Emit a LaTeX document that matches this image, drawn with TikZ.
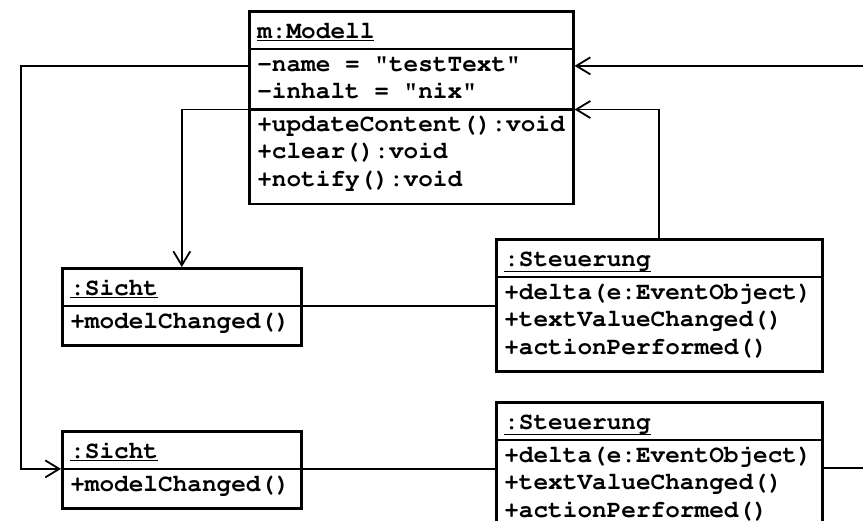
\documentclass[tikz,border=0pt]{standalone}
\usepackage[T1]{fontenc}
\usetikzlibrary{shapes.multipart,arrows.meta,calc}
\newcommand{\blankchar}{\hspace*{0.6em}}
\newcommand{\titlerow}{\rule[-7pt]{0pt}{31pt}}
\newcommand{\lastrow}{\rule[-14pt]{0pt}{32.9pt}}

\begin{document}
\begin{tikzpicture}[x=1pt,y=-1pt,
obj/.style={rectangle split, rectangle split parts=#1, draw=black, line width=2.6pt, anchor=north west, inner xsep=8pt, inner ysep=2pt, font=\fontfamily{pcr}\fontseries{b}\fontsize{24.4}{27}\selectfont},
assoc/.style={black, line width=2.6pt},
nav/.style={black, line width=1.8pt, -{Straight Barb[length=14pt,width=17pt]}}
]
\useasboundingbox (0,0) rectangle (863,521);
\clip (0,0) rectangle (863,521);
\node[obj=3, text width=308pt] (modell) at (248,10) {\titlerow\underline{m:Modell}
\nodepart{two}\strut-name\blankchar=\blankchar"testText"\\\strut-inhalt\blankchar=\blankchar"nix"
\nodepart{three}\strut+updateContent():void\\\strut+clear():void\\\lastrow+notify():void};
\node[obj=2, text width=223pt] (sicht) at (61,267) {\titlerow\underline{:Sicht}
\nodepart{two}\lastrow+modelChanged()};
\node[obj=2, text width=310pt] (steuerung) at (495,238) {\titlerow\underline{:Steuerung}
\nodepart{two}\strut+delta(e:EventObject)\\\strut+textValueChanged()\\\lastrow+actionPerformed()};
\node[obj=2, text width=223pt] (sichtb) at (61,430) {\titlerow\underline{:Sicht}
\nodepart{two}\lastrow+modelChanged()};
\node[obj=2, text width=310pt] (steuerungb) at (495,401) {\titlerow\underline{:Steuerung}
\nodepart{two}\strut+delta(e:EventObject)\\\strut+textValueChanged()\\\lastrow+actionPerformed()};
\coordinate (mrow) at ($(modell.text split east)!0.28!(modell.two split east)$);
\coordinate (mrowl) at ($(modell.text split west)!0.28!(modell.two split west)$);
\coordinate (lbend) at (21,0);
\coordinate (rbend) at (900,0);
\draw[assoc] (sicht.text split east) -- (sicht.text split east -| steuerung.west);
\draw[assoc] (sichtb.text split east) -- (sichtb.text split east -| steuerungb.west);
\draw[nav] (modell.two split west) -| (sicht.north);
\draw[nav] (steuerung.north) |- (modell.two split east);
\draw[nav] (mrowl) -| (lbend |- sichtb.text split west) -- (sichtb.text split west);
\draw[nav] (steuerungb.east) -| (rbend |- mrow) -- (mrow);
\end{tikzpicture}
\end{document}
